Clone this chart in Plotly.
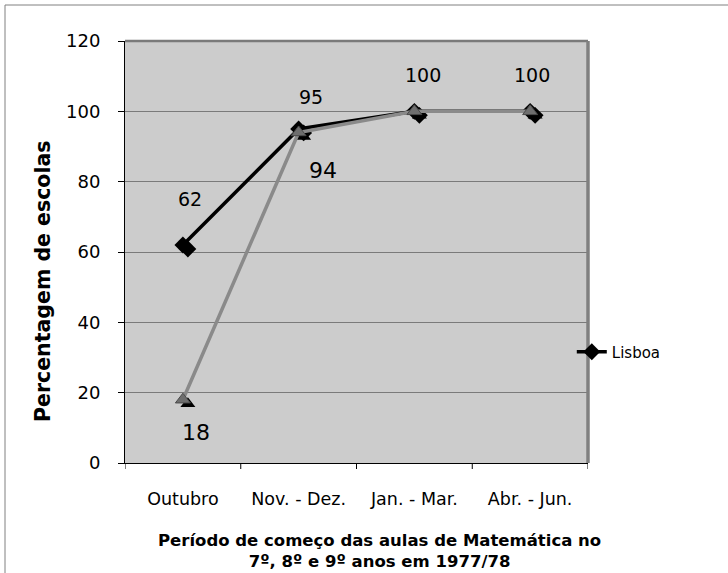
import plotly.graph_objects as go

categories = ["Outubro", "Nov. - Dez.", "Jan. - Mar.", "Abr. - Jun."]
lisboa = [62, 95, 100, 100]
outra = [18, 94, 100, 100]
lisboa_labels = ["62", "95", "100", "100"]
outra_labels = ["18", "94", "", ""]
y_ticks = [0, 20, 40, 60, 80, 100, 120]
x_title_lines = ["Período de começo das aulas de Matemática no", "7º, 8º e 9º anos em 1977/78"]

# label offsets (pixels) – styling only
lis_dx = [7, 12, 9, 2]
lis_dy = [46, 32, 36, 36]
out_dx = [13, 24, 0, 0]
out_dy = [-33, -38, 0, 0]

FONT = "DejaVu Sans"
idx = list(range(len(categories)))

fig = go.Figure()

# marker shadows (on a slightly shifted overlay axis)
fig.add_trace(go.Scatter(x=idx, y=lisboa, mode="markers", xaxis="x2", yaxis="y2",
                         marker=dict(symbol="diamond", size=13, color="black"),
                         showlegend=False, hoverinfo="skip"))
fig.add_trace(go.Scatter(x=idx, y=outra, mode="markers", xaxis="x2", yaxis="y2",
                         marker=dict(symbol="triangle-up", size=13, color="black"),
                         showlegend=False, hoverinfo="skip"))

# real series
fig.add_trace(go.Scatter(x=idx, y=lisboa, mode="lines+markers", name="Lisboa",
                         xaxis="x3", yaxis="y3",
                         line=dict(color="black", width=3.5),
                         marker=dict(symbol="diamond", size=13, color="black")))
fig.add_trace(go.Scatter(x=idx, y=outra, mode="lines+markers", name="Outras",
                         xaxis="x3", yaxis="y3", showlegend=False,
                         line=dict(color="#8a8a8a", width=3.5),
                         marker=dict(symbol="triangle-up", size=13, color="#6e6e6e",
                                     line=dict(color="#4a4a4a", width=1))))

annotations = []
for i, c in enumerate(categories):
    annotations.append(dict(x=i, y=lisboa[i], xref="x3", yref="y3", text=lisboa_labels[i],
                            showarrow=False, xshift=lis_dx[i], yshift=lis_dy[i],
                            font=dict(family=FONT, size=19, color="black")))
    if outra_labels[i]:
        annotations.append(dict(x=i, y=outra[i], xref="x3", yref="y3", text=outra_labels[i],
                                showarrow=False, xshift=out_dx[i], yshift=out_dy[i],
                                font=dict(family=FONT, size=22, color="black")))

W, H = 728, 573
L, R, T, B = 125, 140, 41, 110
pw = W - L - R
ph = H - T - B

annotations.append(dict(text="<br>".join("<b>" + s + "</b>" for s in x_title_lines),
                        xref="paper", yref="paper", x=(379 - L) / pw, y=(ph + T - 551) / ph,
                        showarrow=False, xanchor="center", yanchor="middle",
                        font=dict(family=FONT, size=16.5, color="black")))
annotations.append(dict(text="<b>Percentagem de escolas</b>", textangle=-90,
                        xref="paper", yref="paper", x=(43 - L) / pw, y=(ph + T - 281) / ph,
                        showarrow=False, xanchor="center", yanchor="middle",
                        font=dict(family=FONT, size=20.5, color="black")))

sx = 5 / (pw / 4)       # shadow x shift (data units)
sy = 4 / (ph / 120)     # shadow y shift (data units)

fig.update_layout(
    width=W, height=H,
    margin=dict(l=L, r=R, t=T, b=B),
    paper_bgcolor="white", plot_bgcolor="#cccccc",
    font=dict(family=FONT, size=17, color="black"),
    xaxis=dict(type="linear", range=[-0.5, 3.5], tickvals=idx, ticktext=categories,
               showgrid=False, zeroline=False, showline=True, linecolor="black", linewidth=1,
               ticks="", ticklabelstandoff=20,
               tickfont=dict(family=FONT, size=17.5)),
    yaxis=dict(range=[0, 120], tickvals=y_ticks, showgrid=True, gridcolor="#7a7a7a", gridwidth=1,
               zeroline=False, showline=True, linecolor="black", linewidth=1,
               ticks="outside", ticklen=6, tickcolor="black", ticklabelstandoff=14,
               tickfont=dict(family=FONT, size=18)),
    xaxis2=dict(overlaying="x", range=[-0.5 - sx, 3.5 - sx], visible=False),
    yaxis2=dict(overlaying="y", range=[0 + sy, 120 + sy], visible=False),
    xaxis3=dict(overlaying="x", range=[-0.5, 3.5], visible=False),
    yaxis3=dict(overlaying="y", range=[0, 120], visible=False),
    legend=dict(x=0.965, y=0.263, xanchor="left", yanchor="middle",
                bgcolor="rgba(0,0,0,0)", font=dict(family=FONT, size=15),
                itemwidth=30, tracegroupgap=0),
    annotations=annotations,
    showlegend=True,
)

# boundary ticks on x axis, plot frame shadow, outer frame
shapes = []
for k in range(len(categories) + 1):
    shapes.append(dict(type="line", xref="x", yref="paper", x0=k - 0.5, x1=k - 0.5,
                       y0=0, y1=-6 / ph, line=dict(color="black", width=1)))
shapes.append(dict(type="line", xref="paper", yref="paper", x0=0, x1=1, y0=1, y1=1,
                   line=dict(color="#7a7a7a", width=2.5)))
shapes.append(dict(type="line", xref="paper", yref="paper", x0=1, x1=1, y0=0, y1=1,
                   line=dict(color="#808080", width=3.5)))
shapes.append(dict(type="rect", xref="paper", yref="paper",
                   x0=(5 - L) / pw, x1=1.6, y0=-0.5, y1=1 + (T - 5) / ph,
                   line=dict(color="#808080", width=1), fillcolor="rgba(0,0,0,0)", layer="below"))
fig.update_layout(shapes=shapes)

fig.write_html("out.html", config={"displayModeBar": False},
               post_script="document.body.style.margin='0';document.body.style.padding='0';")
